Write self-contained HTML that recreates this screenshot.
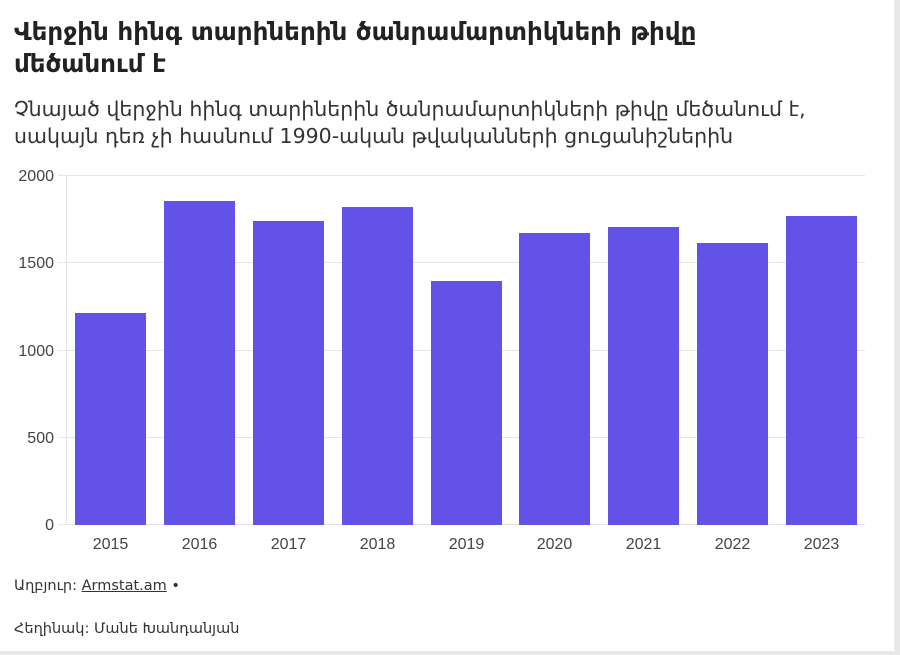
<!DOCTYPE html>
<html><head><meta charset="utf-8"><style>
body{margin:0;background:#fff;}
.w{position:relative;width:900px;height:655px;overflow:hidden;background:#fff;font-family:"Liberation Sans","DejaVu Sans",sans-serif;}
.w:after{content:"";position:absolute;right:0;top:0;width:6px;height:655px;background:#e8e8e8;}
.b{position:absolute;left:0;bottom:0;width:900px;height:4px;background:#e8e8e8;}
h1{position:absolute;left:14px;top:16px;margin:0;font-size:24.6px;line-height:32px;font-weight:bold;color:#222;font-family:"DejaVu Sans",sans-serif;}
.sub{position:absolute;left:14px;top:96px;font-size:20.5px;line-height:27px;color:#333;font-family:"DejaVu Sans",sans-serif;white-space:nowrap;}
.f{position:absolute;left:14px;font-size:14.5px;color:#333;font-family:"DejaVu Sans",sans-serif;}
</style></head><body><div class="w">
<h1>Վերջին հինգ տարիներին ծանրամարտիկների թիվը<br>մեծանում է</h1>
<div class="sub">Չնայած վերջին հինգ տարիներին ծանրամարտիկների թիվը մեծանում է,<br>սակայն դեռ չի հասնում 1990-ական թվականների ցուցանիշներին</div>
<svg style="position:absolute;left:0;top:0" width="900" height="655" font-family="Liberation Sans, sans-serif">
<g stroke="#e6e6e6" stroke-width="1">
<line x1="58" x2="865" y1="175.5" y2="175.5"/><line x1="58" x2="865" y1="262.5" y2="262.5"/>
<line x1="58" x2="865" y1="350.5" y2="350.5"/><line x1="58" x2="865" y1="437.5" y2="437.5"/>
<line x1="58" x2="865" y1="524.5" y2="524.5"/><line x1="66.5" x2="66.5" y1="175" y2="525"/>
</g>
<g fill="#444" font-size="16" text-anchor="end">
<text x="54" y="181">2000</text><text x="54" y="268">1500</text><text x="54" y="356">1000</text><text x="54" y="443">500</text><text x="54" y="530">0</text>
</g>
<g fill="#6352e8">
<rect x="75" y="313" width="71" height="212"/>
<rect x="164" y="201" width="71" height="324"/>
<rect x="253" y="221" width="71" height="304"/>
<rect x="342" y="207" width="71" height="318"/>
<rect x="431" y="281" width="71" height="244"/>
<rect x="519" y="233" width="71" height="292"/>
<rect x="608" y="227" width="71" height="298"/>
<rect x="697" y="243" width="71" height="282"/>
<rect x="786" y="216" width="71" height="309"/>
</g>
<g fill="#444" font-size="16" text-anchor="middle">
<text x="110.5" y="549">2015</text><text x="199.5" y="549">2016</text><text x="288.5" y="549">2017</text><text x="377.5" y="549">2018</text><text x="466.5" y="549">2019</text><text x="554.5" y="549">2020</text><text x="643.5" y="549">2021</text><text x="732.5" y="549">2022</text><text x="821.5" y="549">2023</text>
</g>
</svg>
<div class="f" style="top:578px">Աղբյուր: <span style="text-decoration:underline">Armstat.am</span> •</div>
<div class="f" style="top:621px">Հեղինակ: Մանե Խանդանյան</div>
<div class="b"></div>
</div></body></html>
